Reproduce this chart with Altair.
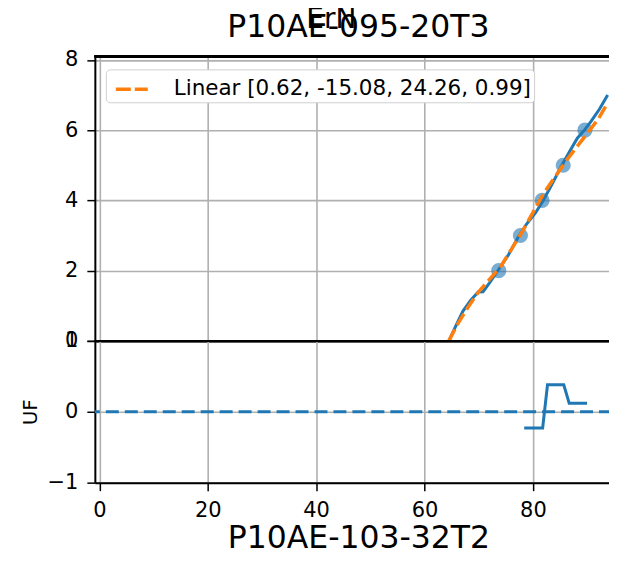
import altair as alt
import pandas as pd

# ---- data ----
curve_x = [64.5, 66.0, 67.1, 68.5, 69.9, 70.8, 72.0, 73.5, 75.5, 77.2, 78.8, 80.5, 81.8, 83.5, 85.2, 86.8, 88.2, 89.5, 90.7, 92.3, 93.8]
curve_y = [0.0, 0.5, 0.85, 1.15, 1.39, 1.4, 1.65, 1.99, 2.45, 2.93, 3.32, 3.65, 3.97, 4.45, 4.96, 5.4, 5.77, 6.0, 6.24, 6.6, 7.0]

fit_x = [64.5, 66, 68, 70, 72, 74, 76, 78, 80, 82, 84, 86, 88, 90, 92, 93.4]
fit_y = [0.0, 0.45, 0.95, 1.4, 1.75, 2.1, 2.6, 3.1, 3.65, 4.2, 4.65, 5.1, 5.5, 5.9, 6.3, 6.67]
fit_label = "Linear [0.62, -15.08, 24.26, 0.99]"

pts_x = [73.7, 77.7, 81.7, 85.6, 89.6]
pts_y = [2, 3, 4, 5, 6]

uf_x = [78.4, 81.8, 82.7, 85.7, 86.7, 90.0]
uf_y = [-0.23, -0.23, 0.38, 0.38, 0.12, 0.12]
uf_ref_level = [0]

x_ticks = [0, 20, 40, 60, 80]
top_y_ticks = [0, 2, 4, 6, 8]
bot_y_ticks = [-1, 0, 1]

suptitle = "ErN"
top_title = "P10AE-095-20T3"
x_title = "P10AE-103-32T2"
uf_title = "UF"

# ---- frames ----
curve_df = pd.DataFrame({"x": curve_x, "y": curve_y})
fit_df = pd.DataFrame({"x": fit_x, "y": fit_y, "label": [fit_label] * len(fit_x)})
pts_df = pd.DataFrame({"x": pts_x, "y": pts_y})
uf_df = pd.DataFrame({"x": uf_x, "y": uf_y})
ref_df = pd.DataFrame({"y": uf_ref_level})

W, H1, H2 = 518, 285, 142
BLUE, ORANGE, GRID = "#1f77b4", "#ff7f0e", "#b0b0b0"
FONT = "DejaVu Sans"
LABEL_EXPR = "datum.value < 0 ? '\u2212' + abs(datum.value) : '' + datum.value"

xscale = alt.Scale(domain=[-0.83, 94.6], nice=False, zero=False)
top_yscale = alt.Scale(domain=[0, 8.1], nice=False, zero=False)
bot_yscale = alt.Scale(domain=[-1, 1], nice=False, zero=False)

common = dict(gridColor=GRID, gridWidth=1.6, domainColor="black", tickColor="black",
              tickSize=8, tickWidth=1.5, labelFontSize=21, labelColor="black",
              labelFont=FONT, labelExpr=LABEL_EXPR, labelOverlap=False)

top_xaxis = alt.Axis(values=x_ticks, labels=False, ticks=False, grid=True, gridColor=GRID,
                     gridWidth=1.6, domain=True, domainColor="black", domainWidth=2.5, title=None)
top_yaxis = alt.Axis(values=top_y_ticks, grid=True, domainWidth=2, title=None, labelPadding=9,
                     **common)

bot_xaxis = alt.Axis(values=x_ticks, grid=True, domainWidth=2, labelFlush=False, labelPadding=9,
                     title=x_title, titleFontSize=31.5, titleFontWeight="normal",
                     titleColor="black", titleFont=FONT, titlePadding=2, titleX=W / 2 + 5,
                     **common)
bot_yaxis = alt.Axis(values=bot_y_ticks, grid=True, domainWidth=2, labelPadding=9,
                     title=uf_title, titleFontSize=20, titleFontWeight="normal",
                     titleColor="black", titleFont=FONT, titlePadding=6, **common)

top_enc = dict(x=alt.X("x:Q", scale=xscale, axis=top_xaxis),
               y=alt.Y("y:Q", scale=top_yscale, axis=top_yaxis))

points = alt.Chart(pts_df).mark_circle(size=230, color=BLUE, opacity=0.6).encode(**top_enc)
curve = alt.Chart(curve_df).mark_line(color=BLUE, strokeWidth=3).encode(**top_enc)
fit = alt.Chart(fit_df).mark_line(strokeWidth=3.5, strokeDash=[13, 5]).encode(
    **top_enc,
    color=alt.Color("label:N", scale=alt.Scale(domain=[fit_label], range=[ORANGE]),
                    legend=alt.Legend(title=None, orient="none", legendX=11, legendY=13,
                                      symbolType="stroke", symbolStrokeWidth=3.5,
                                      symbolDash=[15, 4], symbolSize=1024, symbolOffset=6,
                                      labelFontSize=21.5, labelFont=FONT, labelColor="black",
                                      labelLimit=700, labelOffset=24, fillColor="white",
                                      strokeColor="#d0d0d0", padding=2, cornerRadius=4)),
)
top_spine = alt.Chart(curve_df).mark_rule(color="black", strokeWidth=2).encode(y=alt.value(0))

top = alt.layer(points, curve, fit, top_spine).properties(
    width=W, height=H1,
    title=alt.TitleParams(top_title, fontSize=31.5, fontWeight="normal", font=FONT, color="black",
                          offset=5, anchor="middle", dx=5),
)

bot_enc = dict(x=alt.X("x:Q", scale=xscale, axis=bot_xaxis),
               y=alt.Y("y:Q", scale=bot_yscale, axis=bot_yaxis))
uf_line = alt.Chart(uf_df).mark_line(color=BLUE, strokeWidth=3).encode(**bot_enc)
zero_line = alt.Chart(ref_df).mark_rule(color=BLUE, strokeWidth=3, strokeDash=[13, 6]).encode(
    y=alt.Y("y:Q", scale=bot_yscale, axis=bot_yaxis))
bot_spine = alt.Chart(uf_df).mark_rule(color="black", strokeWidth=2).encode(y=alt.value(0))

bottom = alt.layer(zero_line, uf_line, bot_spine).properties(width=W, height=H2)

chart = alt.vconcat(top, bottom, spacing=0, bounds="flush").properties(
    title=alt.TitleParams(suptitle, fontSize=28, fontWeight="normal", font=FONT, color="black",
                          anchor="middle", offset=-22, dx=14),
    padding={"left": 13, "top": -2, "right": -5, "bottom": -6},
).configure_view(stroke=None)

chart.save("out.html", embed_options={"renderer": "svg", "actions": False})
